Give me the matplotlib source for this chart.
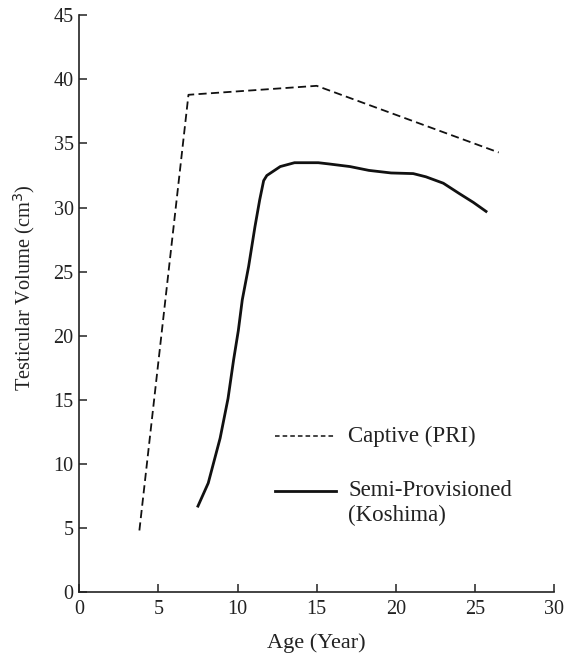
import matplotlib
matplotlib.use("Agg")
import matplotlib.pyplot as plt

# Captive (PRI)
captive_age = [3.8, 6.9, 15.0, 26.5]
captive_vol = [4.8, 38.8, 39.5, 34.3]

# Semi-Provisioned (Koshima)
semi_age = [7.5, 8.15, 8.9, 9.4, 9.75, 10.05, 10.3, 10.7, 11.1, 11.4, 11.65,
            11.85, 12.7, 13.6, 15.1, 15.8, 17.1, 18.3, 19.7, 21.1, 21.9,
            23.0, 24.0, 24.9, 25.7]
semi_vol = [6.7, 8.5, 12.0, 15.1, 18.1, 20.4, 22.8, 25.4, 28.5, 30.6, 32.1,
            32.5, 33.2, 33.5, 33.5, 33.4, 33.2, 32.9, 32.7, 32.65, 32.4,
            31.9, 31.1, 30.4, 29.7]

xticks = [0, 5, 10, 15, 20, 25, 30]
yticks = [0, 5, 10, 15, 20, 25, 30, 35, 40, 45]

plt.rcParams['font.family'] = ['Liberation Serif', 'DejaVu Serif']

fig = plt.figure(figsize=(5.66, 6.56), dpi=100)
ax = fig.add_axes([0.14, 0.0976, 0.839, 0.879])

ax.plot(captive_age, captive_vol, color='#111111', lw=1.3, dashes=(4.5, 2.4))
ax.plot(semi_age, semi_vol, color='#111111', lw=2.0)

ax.set_xlim(0, 30)
ax.set_ylim(0, 45)
ax.set_xticks(xticks)
ax.set_yticks(yticks)
ax.spines['top'].set_visible(False)
ax.spines['right'].set_visible(False)
for s in ['left', 'bottom']:
    ax.spines[s].set_linewidth(1.2)
    ax.spines[s].set_color('#222222')
ax.tick_params(direction='in', length=6, width=1.1, labelsize=14.5, colors='#222222')
ax.tick_params(axis='y', pad=4)
ax.tick_params(axis='x', pad=6)

ax.set_xlabel('Age (Year)', fontsize=16, labelpad=10, color='#222222')
ax.set_ylabel('Testicular Volume (cm$^3$)', fontsize=14.7, color='#222222')
ax.yaxis.set_label_coords(-0.09, 0.527)

# legend, drawn by hand so the solid handle lines up with the first text line
ax.plot([0.413, 0.541], [0.2705, 0.2705], transform=ax.transAxes,
        color='#111111', lw=1.1, dashes=(3, 2))
ax.plot([0.413, 0.541], [0.1757, 0.1757], transform=ax.transAxes,
        color='#111111', lw=2.0)
ax.text(0.566, 0.2705, 'Captive (PRI)', transform=ax.transAxes,
        fontsize=16.5, va='center', color='#222222')
ax.text(0.566, 0.1757, 'Semi-Provisioned', transform=ax.transAxes,
        fontsize=16.5, va='center', color='#222222')
ax.text(0.566, 0.1335, '(Koshima)', transform=ax.transAxes,
        fontsize=16.5, va='center', color='#222222')

fig.savefig('out.png', dpi=100)
